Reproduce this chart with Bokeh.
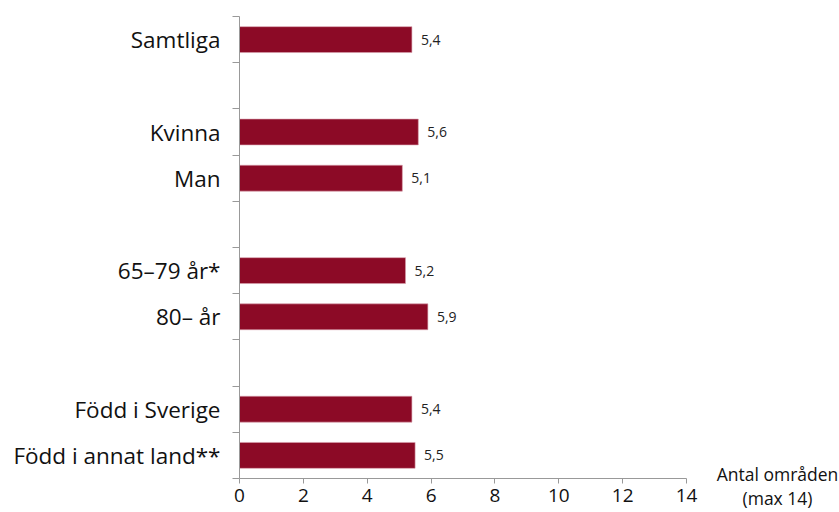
from bokeh.plotting import figure
from bokeh.models import Range1d, FixedTicker, Label
from bokeh.embed import file_html
from bokeh.resources import INLINE
from bokeh.core.properties import value

# Data (blank strings are spacer rows)
categories = ["Samtliga", "", "Kvinna", "Man", "", "65–79 år*", "80– år", "", "Född i Sverige", "Född i annat land**"]
values = [5.4, None, 5.6, 5.1, None, 5.2, 5.9, None, 5.4, 5.5]
x_ticks = [0, 2, 4, 6, 8, 10, 12, 14]
x_title = "Antal områden\n(max 14)"

BAR = "#8C0A26"
FONT = "Open Sans"

n = len(categories)
ys = [i + 0.5 for i, c in enumerate(categories) if c]
vals = [v for v in values if v is not None]
names = [c for c in categories if c]
val_txt = [f"{v:.1f}".replace(".", ",") for v in vals]

# layout: frame spans the whole canvas, axes drawn at fixed locations
W, H = 839, 512
L_PX, R_PX, T_PX, B_PX = 239, 686, 16, 478
xmax = x_ticks[-1]
sx = (R_PX - L_PX) / xmax
sy = (B_PX - T_PX) / n
x_range = Range1d(-L_PX / sx, xmax + (W - R_PX) / sx)
y_range = Range1d(n + (H - B_PX) / sy, -T_PX / sy)

p = figure(width=W, height=H, output_backend="svg", toolbar_location=None,
           x_range=x_range, y_range=y_range,
           min_border_left=0, min_border_right=0, min_border_top=0, min_border_bottom=0)
p.outline_line_color = None
p.xgrid.grid_line_color = None
p.ygrid.grid_line_color = None
p.background_fill_color = "white"
p.border_fill_color = "white"

p.hbar(y=ys, right=vals, left=0, height=0.56, fill_color=BAR, line_color="#d9a0ac", line_width=0.6)
p.text(x=vals, y=ys, text=val_txt, x_offset=9, text_baseline="middle", text_align="left",
       text_font=value(FONT), text_font_size="14px", text_color="#222222")

ax = p.yaxis[0]
ax.fixed_location = 0
ax.bounds = (0, n)
ax.ticker = FixedTicker(ticks=ys, minor_ticks=list(range(n + 1)))
ax.major_label_overrides = {y: nm for y, nm in zip(ys, names)}
ax.major_tick_out = 0
ax.major_tick_in = 0
ax.minor_tick_out = 7
ax.minor_tick_in = 0
ax.minor_tick_line_color = "#999999"
ax.axis_line_color = "#999999"
ax.major_label_standoff = 12
ax.major_label_text_font = FONT
ax.major_label_text_font_size = "22.5px"
ax.major_label_text_color = "#111111"

bx = p.xaxis[0]
bx.fixed_location = n
bx.bounds = (0, xmax)
bx.ticker = FixedTicker(ticks=x_ticks, minor_ticks=[])
bx.major_tick_out = 5
bx.major_tick_in = 0
bx.major_tick_line_color = "#999999"
bx.axis_line_color = "#999999"
bx.major_label_standoff = 5
bx.major_label_text_font = FONT
bx.major_label_text_font_size = "19px"
bx.major_label_text_color = "#111111"

p.add_layout(Label(x=xmax, y=n, x_offset=91, y_offset=17, text=x_title, text_align="center",
                   text_baseline="top", text_font=FONT, text_font_size="17.5px",
                   text_line_height=1.0, text_color="#111111"))

open("out.html", "w").write(file_html(p, INLINE))
